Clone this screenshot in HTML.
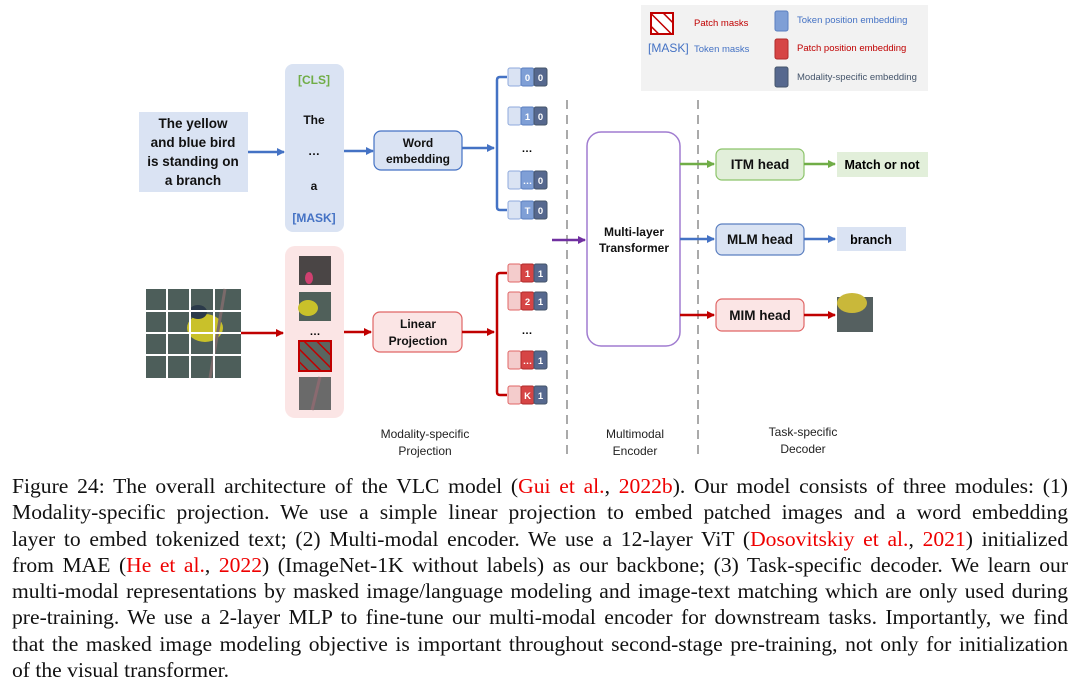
<!DOCTYPE html>
<html><head><meta charset="utf-8"><style>
body{margin:0;background:#fff;width:1080px;height:685px;overflow:hidden;position:relative;font-family:"Liberation Sans",sans-serif}
svg{position:absolute;left:0;top:0}
.cap{position:absolute;left:12px;width:1056px;font-family:"Liberation Serif",serif;font-size:21.6px;line-height:26.3px;top:473px;color:#111}
.cap div{text-align:justify;text-align-last:justify;white-space:nowrap;height:26.3px}
.cap div.l{text-align-last:left}
.r{color:#e00}
</style></head><body>
<svg width="1080" height="470" viewBox="0 0 1080 470" font-family="Liberation Sans, sans-serif">
<defs>
<marker id="ab" markerWidth="8" markerHeight="8" refX="7" refY="4" orient="auto" markerUnits="userSpaceOnUse"><path d="M0,0 L8,4 L0,8z" fill="#4472c4"/></marker>
<marker id="ar" markerWidth="8" markerHeight="8" refX="7" refY="4" orient="auto" markerUnits="userSpaceOnUse"><path d="M0,0 L8,4 L0,8z" fill="#c00000"/></marker>
<marker id="ag" markerWidth="8" markerHeight="8" refX="7" refY="4" orient="auto" markerUnits="userSpaceOnUse"><path d="M0,0 L8,4 L0,8z" fill="#70ad47"/></marker>
<marker id="ap" markerWidth="8" markerHeight="8" refX="7" refY="4" orient="auto" markerUnits="userSpaceOnUse"><path d="M0,0 L8,4 L0,8z" fill="#7030a0"/></marker>
<pattern id="hatch" width="9" height="9" patternUnits="userSpaceOnUse" patternTransform="rotate(-45)"><rect width="9" height="9" fill="none"/><line x1="0" y1="0" x2="0" y2="9" stroke="#c00000" stroke-width="3"/></pattern>
</defs>
<rect x="641" y="5" width="287" height="86" fill="#f2f2f2"/>
<rect x="651" y="13" width="22" height="21" fill="#fff" stroke="#c00000" stroke-width="2"/>
<rect x="651" y="13" width="22" height="21" fill="url(#hatch)"/>
<text x="694" y="26" font-size="9.5" fill="#c00000">Patch masks</text>
<text x="648" y="52" font-size="12" fill="#4472c4">[MASK]</text>
<text x="694" y="52" font-size="9.5" fill="#4472c4">Token masks</text>
<rect x="775" y="11" width="13" height="20" rx="2" fill="#7f9fd6" stroke="#5b7fc0"/>
<text x="797" y="23" font-size="9.5" fill="#4472c4">Token position embedding</text>
<rect x="775" y="39" width="13" height="20" rx="2" fill="#d64545" stroke="#b02a2a"/>
<text x="797" y="51" font-size="9.5" fill="#c00000">Patch position embedding</text>
<rect x="775" y="67" width="13" height="20" rx="2" fill="#56688e" stroke="#44546a"/>
<text x="797" y="80" font-size="9.5" fill="#44546a">Modality-specific embedding</text>

<rect x="139" y="112" width="109" height="80" fill="#dae3f3"/>
<g font-size="13.5" font-weight="bold" text-anchor="middle" fill="#111">
<text x="193" y="128">The yellow</text><text x="193" y="147">and blue bird</text><text x="193" y="166">is standing on</text><text x="193" y="185">a branch</text></g>
<line x1="248" y1="152" x2="284" y2="152" stroke="#4472c4" stroke-width="2.5" marker-end="url(#ab)"/>
<rect x="285" y="64" width="59" height="168" rx="8" fill="#dae3f3"/>
<g font-size="12" font-weight="bold" text-anchor="middle">
<text x="314" y="84" fill="#70ad47">[CLS]</text>
<text x="314" y="124" fill="#111">The</text>
<text x="314" y="155" fill="#111">…</text>
<text x="314" y="190" fill="#111">a</text>
<text x="314" y="222" fill="#4472c4">[MASK]</text></g>
<line x1="344" y1="151" x2="373" y2="151" stroke="#4472c4" stroke-width="2.5" marker-end="url(#ab)"/>
<rect x="374" y="131" width="88" height="39" rx="7" fill="#dae3f3" stroke="#4472c4" stroke-width="1.2"/>
<g font-size="12" font-weight="bold" text-anchor="middle" fill="#111"><text x="418" y="147">Word</text><text x="418" y="163">embedding</text></g>
<line x1="462" y1="148" x2="494" y2="148" stroke="#4472c4" stroke-width="2.5" marker-end="url(#ab)"/>
<path d="M507,77 H500 Q497,77 497,80 V207 Q497,210 500,210 H507" fill="none" stroke="#4472c4" stroke-width="2.5"/>
<text x="527" y="152" font-size="11" text-anchor="middle" font-weight="bold">…</text>

<rect x="146" y="289" width="95" height="89" fill="#4d5e5a"/>
<ellipse cx="205" cy="328" rx="18" ry="14" fill="#c9c12a"/>
<ellipse cx="198" cy="312" rx="9" ry="7" fill="#2b3a4a"/>
<line x1="225" y1="289" x2="210" y2="378" stroke="#7a6a6a" stroke-width="3"/>
<g stroke="#fff" stroke-width="2"><line x1="167" y1="289" x2="167" y2="378"/><line x1="190" y1="289" x2="190" y2="378"/><line x1="214" y1="289" x2="214" y2="378"/><line x1="146" y1="311" x2="241" y2="311"/><line x1="146" y1="333" x2="241" y2="333"/><line x1="146" y1="355" x2="241" y2="355"/></g>
<line x1="241" y1="333" x2="283" y2="333" stroke="#c00000" stroke-width="2.5" marker-end="url(#ar)"/>
<rect x="285" y="246" width="59" height="172" rx="10" fill="#fbe5e5"/>
<rect x="299" y="256" width="32" height="29" fill="#4a4545"/><ellipse cx="309" cy="278" rx="4" ry="6" fill="#d04070"/>
<rect x="299" y="292" width="32" height="29" fill="#50605a"/><ellipse cx="308" cy="308" rx="10" ry="8" fill="#c9c12a"/>
<text x="315" y="335" font-size="11" text-anchor="middle" font-weight="bold">…</text>
<rect x="299" y="341" width="32" height="30" fill="#5a6560" stroke="#c00000" stroke-width="2"/>
<rect x="299" y="341" width="32" height="30" fill="url(#hatch)"/>
<rect x="299" y="377" width="32" height="33" fill="#6a6a6a"/><line x1="320" y1="377" x2="312" y2="410" stroke="#8a6a70" stroke-width="3"/>
<line x1="344" y1="332" x2="371" y2="332" stroke="#c00000" stroke-width="2.5" marker-end="url(#ar)"/>
<rect x="373" y="312" width="89" height="40" rx="7" fill="#fbe5e5" stroke="#e06666" stroke-width="1.2"/>
<g font-size="12" font-weight="bold" text-anchor="middle" fill="#111"><text x="418" y="328">Linear</text><text x="418" y="345">Projection</text></g>
<line x1="462" y1="332" x2="494" y2="332" stroke="#c00000" stroke-width="2.5" marker-end="url(#ar)"/>
<path d="M507,273 H500 Q497,273 497,276 V392 Q497,395 500,395 H507" fill="none" stroke="#c00000" stroke-width="2.5"/>
<text x="527" y="334" font-size="11" text-anchor="middle" font-weight="bold">…</text>

<g font-size="9.5" font-weight="bold" fill="#fff" text-anchor="middle">
<g transform="translate(508,68)"><rect width="13" height="18" rx="2" fill="#dae3f3" stroke="#8faadc"/><rect x="13" width="13" height="18" rx="2" fill="#7f9fd6" stroke="#5b7fc0"/><rect x="26" width="13" height="18" rx="2" fill="#56688e" stroke="#44546a"/><text x="19.5" y="13">0</text><text x="32.5" y="13">0</text></g>
<g transform="translate(508,107)"><rect width="13" height="18" rx="2" fill="#dae3f3" stroke="#8faadc"/><rect x="13" width="13" height="18" rx="2" fill="#7f9fd6" stroke="#5b7fc0"/><rect x="26" width="13" height="18" rx="2" fill="#56688e" stroke="#44546a"/><text x="19.5" y="13">1</text><text x="32.5" y="13">0</text></g>
<g transform="translate(508,171)"><rect width="13" height="18" rx="2" fill="#dae3f3" stroke="#8faadc"/><rect x="13" width="13" height="18" rx="2" fill="#7f9fd6" stroke="#5b7fc0"/><rect x="26" width="13" height="18" rx="2" fill="#56688e" stroke="#44546a"/><text x="19.5" y="13">…</text><text x="32.5" y="13">0</text></g>
<g transform="translate(508,201)"><rect width="13" height="18" rx="2" fill="#dae3f3" stroke="#8faadc"/><rect x="13" width="13" height="18" rx="2" fill="#7f9fd6" stroke="#5b7fc0"/><rect x="26" width="13" height="18" rx="2" fill="#56688e" stroke="#44546a"/><text x="19.5" y="13">T</text><text x="32.5" y="13">0</text></g>
<g transform="translate(508,264)"><rect width="13" height="18" rx="2" fill="#f4cccc" stroke="#e06666"/><rect x="13" width="13" height="18" rx="2" fill="#d64545" stroke="#b02a2a"/><rect x="26" width="13" height="18" rx="2" fill="#56688e" stroke="#44546a"/><text x="19.5" y="13">1</text><text x="32.5" y="13">1</text></g>
<g transform="translate(508,292)"><rect width="13" height="18" rx="2" fill="#f4cccc" stroke="#e06666"/><rect x="13" width="13" height="18" rx="2" fill="#d64545" stroke="#b02a2a"/><rect x="26" width="13" height="18" rx="2" fill="#56688e" stroke="#44546a"/><text x="19.5" y="13">2</text><text x="32.5" y="13">1</text></g>
<g transform="translate(508,351)"><rect width="13" height="18" rx="2" fill="#f4cccc" stroke="#e06666"/><rect x="13" width="13" height="18" rx="2" fill="#d64545" stroke="#b02a2a"/><rect x="26" width="13" height="18" rx="2" fill="#56688e" stroke="#44546a"/><text x="19.5" y="13">…</text><text x="32.5" y="13">1</text></g>
<g transform="translate(508,386)"><rect width="13" height="18" rx="2" fill="#f4cccc" stroke="#e06666"/><rect x="13" width="13" height="18" rx="2" fill="#d64545" stroke="#b02a2a"/><rect x="26" width="13" height="18" rx="2" fill="#56688e" stroke="#44546a"/><text x="19.5" y="13">K</text><text x="32.5" y="13">1</text></g>
</g>

<line x1="567" y1="100" x2="567" y2="458" stroke="#aaa" stroke-width="2" stroke-dasharray="9,6"/>
<line x1="698" y1="100" x2="698" y2="458" stroke="#aaa" stroke-width="2" stroke-dasharray="9,6"/>
<line x1="552" y1="240" x2="585" y2="240" stroke="#7030a0" stroke-width="2.5" marker-end="url(#ap)"/>
<rect x="587" y="132" width="93" height="214" rx="14" fill="#fff" stroke="#a07cd0" stroke-width="1.5"/>
<g font-size="12" font-weight="bold" text-anchor="middle" fill="#111"><text x="634" y="236">Multi-layer</text><text x="634" y="252">Transformer</text></g>
<line x1="680" y1="164" x2="714" y2="164" stroke="#70ad47" stroke-width="2.5" marker-end="url(#ag)"/>
<line x1="680" y1="239" x2="714" y2="239" stroke="#4472c4" stroke-width="2.5" marker-end="url(#ab)"/>
<line x1="680" y1="315" x2="714" y2="315" stroke="#c00000" stroke-width="2.5" marker-end="url(#ar)"/>
<rect x="716" y="149" width="88" height="31" rx="6" fill="#e2efda" stroke="#8cc46a" stroke-width="1.2"/>
<rect x="716" y="224" width="88" height="31" rx="6" fill="#dae3f3" stroke="#5b7fc0" stroke-width="1.2"/>
<rect x="716" y="299" width="88" height="32" rx="6" fill="#fbe5e5" stroke="#e06666" stroke-width="1.2"/>
<g font-size="13.5" font-weight="bold" text-anchor="middle" fill="#111"><text x="760" y="169">ITM head</text><text x="760" y="244">MLM head</text><text x="760" y="320">MIM head</text></g>
<line x1="804" y1="164" x2="835" y2="164" stroke="#70ad47" stroke-width="2.5" marker-end="url(#ag)"/>
<line x1="804" y1="239" x2="835" y2="239" stroke="#4472c4" stroke-width="2.5" marker-end="url(#ab)"/>
<line x1="804" y1="315" x2="835" y2="315" stroke="#c00000" stroke-width="2.5" marker-end="url(#ar)"/>
<rect x="837" y="152" width="91" height="25" fill="#e2efda"/>
<text x="882" y="169" font-size="12.5" font-weight="bold" text-anchor="middle">Match or not</text>
<rect x="837" y="227" width="69" height="24" fill="#dae3f3"/>
<text x="871" y="244" font-size="12.5" font-weight="bold" text-anchor="middle">branch</text>
<rect x="837" y="297" width="36" height="35" fill="#556060"/><ellipse cx="852" cy="303" rx="15" ry="10" fill="#c9b83a"/>
<g font-size="12" text-anchor="middle" fill="#222">
<text x="425" y="438">Modality-specific</text><text x="425" y="455">Projection</text>
<text x="635" y="438">Multimodal</text><text x="635" y="455">Encoder</text>
<text x="803" y="436">Task-specific</text><text x="803" y="453">Decoder</text></g>
</svg>
<div class="cap">
<div>Figure 24: The overall architecture of the VLC model (<span class="r">Gui et al.</span>, <span class="r">2022b</span>). Our model consists of three modules: (1)</div>
<div>Modality-specific projection. We use a simple linear projection to embed patched images and a word embedding</div>
<div>layer to embed tokenized text; (2) Multi-modal encoder. We use a 12-layer ViT (<span class="r">Dosovitskiy et al.</span>, <span class="r">2021</span>) initialized</div>
<div>from MAE (<span class="r">He et al.</span>, <span class="r">2022</span>) (ImageNet-1K without labels) as our backbone; (3) Task-specific decoder. We learn our</div>
<div>multi-modal representations by masked image/language modeling and image-text matching which are only used during</div>
<div>pre-training. We use a 2-layer MLP to fine-tune our multi-modal encoder for downstream tasks. Importantly, we find</div>
<div>that the masked image modeling objective is important throughout second-stage pre-training, not only for initialization</div>
<div class="l">of the visual transformer.</div>
</div>
</body></html>
